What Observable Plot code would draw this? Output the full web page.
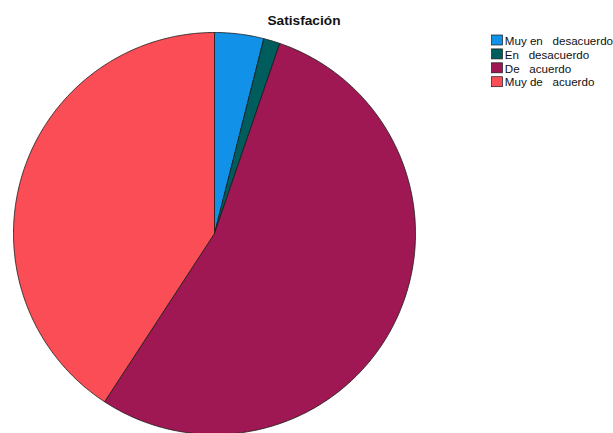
<!DOCTYPE html>
<html>
<head>
<meta charset="utf-8">
<script src="https://cdn.jsdelivr.net/npm/d3@7"></script>
<script src="https://cdn.jsdelivr.net/npm/@observablehq/plot@0.6"></script>
<style>
  html, body { margin: 0; padding: 0; background: #fff; }
  svg text { white-space: pre; }
</style>
</head>
<body>
<div id="chart"></div>
<script>
// Data
const title = "Satisfación";
const categories = ["Muy en   desacuerdo", "En   desacuerdo", "De   acuerdo", "Muy de   acuerdo"];
const counts = [3, 1, 41, 31];
const colors = ["#1192e8", "#005d5d", "#9f1853", "#fa4d56"];

// Layout
const W = 613, H = 433;
const cx = 214, cy = 233, R = 201;

const pie = d3.pie().sort(null).value(d => d.value).startAngle(0).endAngle(2 * Math.PI);
const arcs = pie(categories.map((c, i) => ({cat: c, value: counts[i]})));

const pts = [];
for (const a of arcs) {
  const n = Math.max(2, Math.ceil((a.endAngle - a.startAngle) * 90));
  pts.push({cat: a.data.cat, x: cx, y: cy});
  for (let k = 0; k <= n; k++) {
    const t = a.startAngle + (a.endAngle - a.startAngle) * k / n;
    pts.push({cat: a.data.cat, x: cx + R * Math.sin(t), y: cy - R * Math.cos(t)});
  }
  pts.push({cat: a.data.cat, x: cx, y: cy});
}

const legend = categories.map((c, i) => ({cat: c, i}));
const lx = 491.5, ly = 35, ls = 13.9, szw = 11, szh = 10;

const plot = Plot.plot({
  width: W, height: H,
  margin: 0,
  x: {domain: [0, W], range: [0, W], axis: null},
  y: {domain: [0, H], range: [0, H], axis: null},
  color: {domain: categories, range: colors},
  style: {fontFamily: "Liberation Sans, Arial, sans-serif", background: "#fff"},
  marks: [
    Plot.line(pts, {x: "x", y: "y", z: "cat", fill: "cat", stroke: "#1a1a1a", strokeWidth: 0.8, strokeLinejoin: "round"}),
    Plot.rect(legend, {x1: () => lx, x2: () => lx + szw, y1: d => ly + d.i * ls, y2: d => ly + d.i * ls + szh, fill: "cat", stroke: "#1a1a1a", strokeWidth: 0.7}),
    Plot.text(legend, {x: () => lx + szw + 1.8, y: d => ly + d.i * ls + szh / 2 + 0.5, text: "cat", textAnchor: "start", fontSize: 11.6, fill: "#111"}),
    Plot.text([title], {x: () => 303.5, y: () => 20.5, text: d => d, fontSize: 13.7, fontWeight: "bold", fill: "#111"})
  ]
});
document.getElementById("chart").appendChild(plot);
</script>
</body>
</html>
